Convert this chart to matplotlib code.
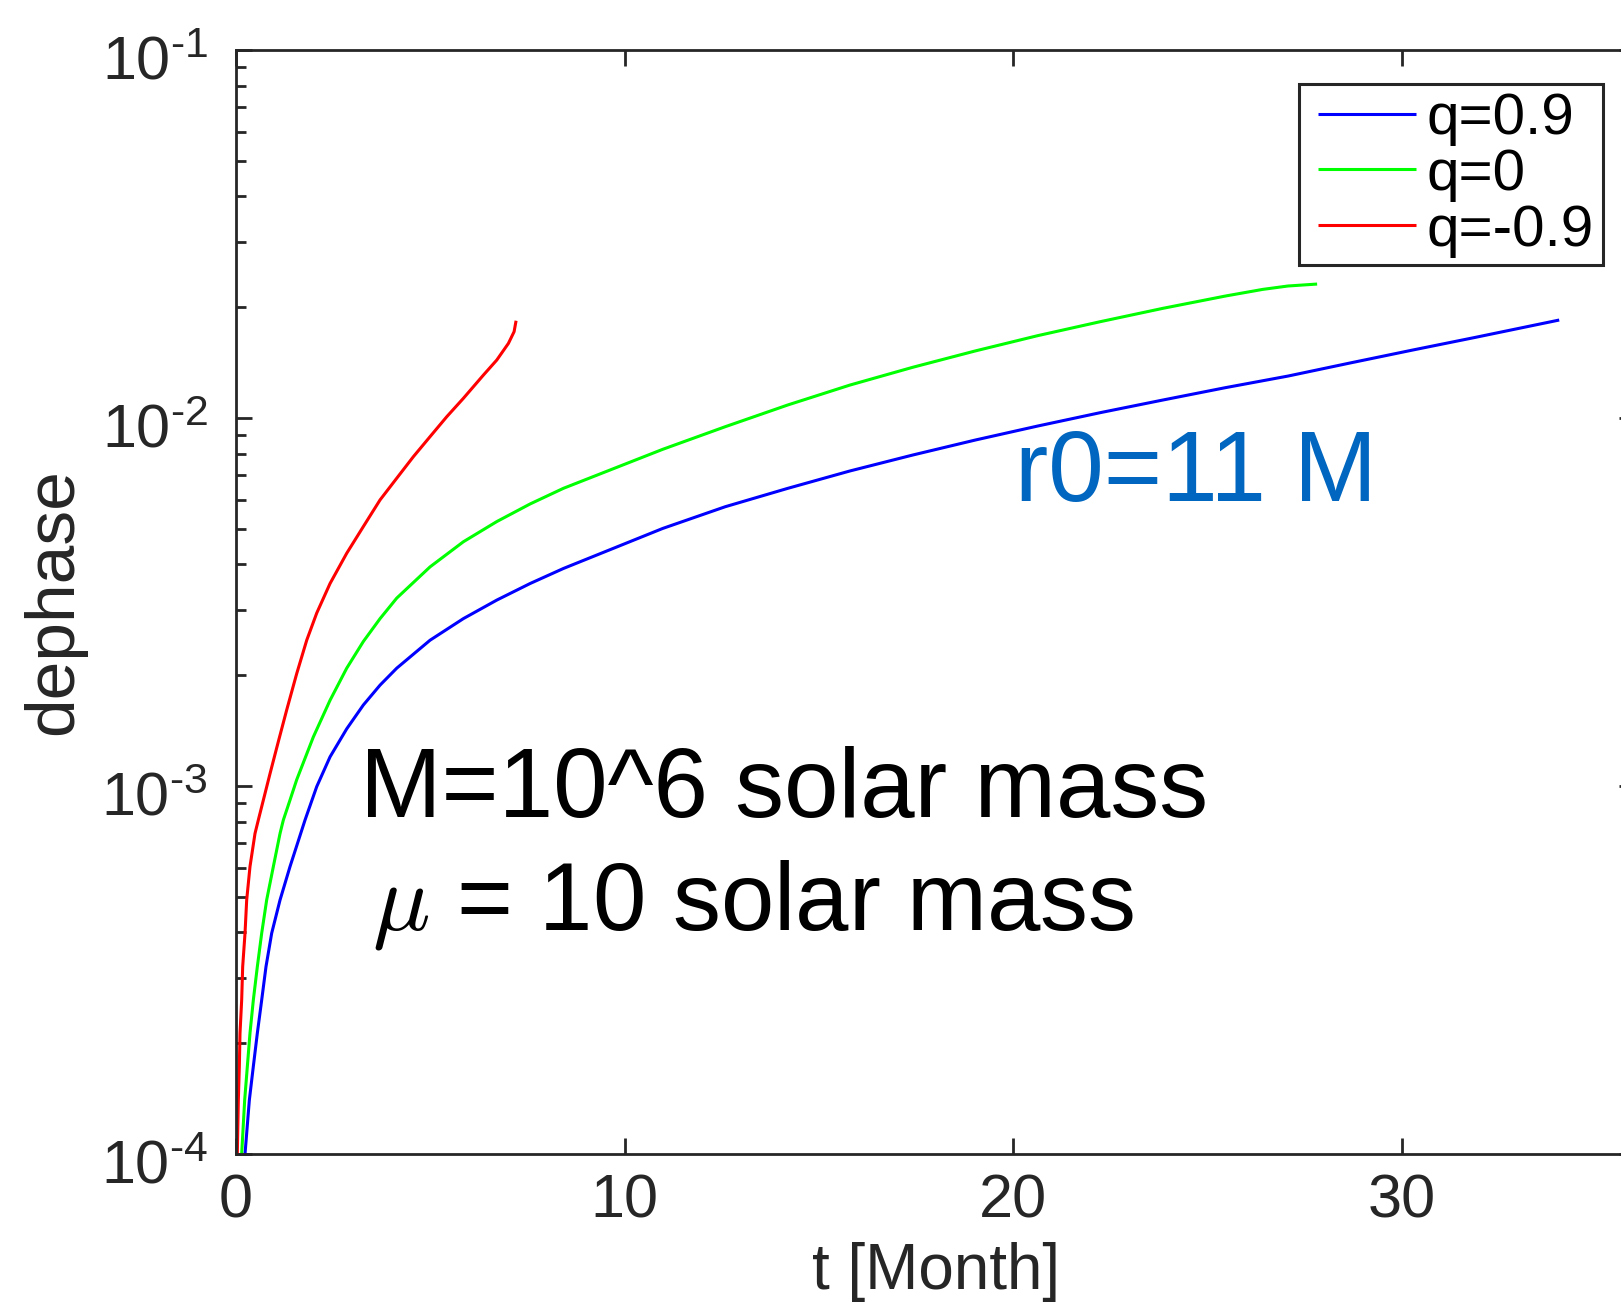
import matplotlib
matplotlib.use("Agg")
import numpy as np
import matplotlib.pyplot as plt
from matplotlib.patches import Rectangle
from matplotlib.transforms import ScaledTranslation

plt.rcParams['font.family'] = ['Liberation Sans', 'DejaVu Sans']
plt.rcParams['mathtext.fontset'] = 'custom'
plt.rcParams['mathtext.rm'] = 'Liberation Sans'
plt.rcParams['mathtext.it'] = 'Liberation Sans:italic'

# dephase vs time (months), one curve per spin q
t_q09 = [0.232, 0.343, 0.446, 0.549, 0.661, 0.772, 0.918, 1.133, 1.390, 1.776,
         2.077, 2.420, 2.849, 3.277, 3.707, 4.136, 4.994, 5.851, 6.710, 7.568,
         8.425, 10.98, 12.59, 14.20, 15.80, 17.41, 19.02, 20.63, 22.24, 23.85,
         25.46, 27.07, 28.67, 30.28, 31.89, 34.05]
d_q09 = [1.0e-4, 1.40e-4, 1.73e-4, 2.13e-4, 2.62e-4, 3.23e-4, 3.98e-4, 4.90e-4,
         6.04e-4, 8.08e-4, 9.96e-4, 1.20e-3, 1.43e-3, 1.66e-3, 1.88e-3, 2.09e-3,
         2.49e-3, 2.85e-3, 3.20e-3, 3.55e-3, 3.90e-3, 5.01e-3, 5.74e-3, 6.44e-3,
         7.18e-3, 7.93e-3, 8.71e-3, 9.51e-3, 1.034e-2, 1.119e-2, 1.209e-2,
         1.300e-2, 1.411e-2, 1.530e-2, 1.656e-2, 1.846e-2]

t_q0 = [0.146, 0.223, 0.292, 0.360, 0.446, 0.549, 0.661, 0.789, 0.961, 1.133,
        1.218, 1.390, 1.562, 1.991, 2.420, 2.849, 3.277, 3.707, 4.136, 4.994,
        5.851, 6.710, 7.568, 8.425, 10.98, 12.59, 14.20, 15.80, 17.41, 19.02,
        20.63, 22.24, 23.85, 25.46, 26.42, 27.07, 27.82]
d_q0 = [1.0e-4, 1.40e-4, 1.73e-4, 2.13e-4, 2.62e-4, 3.23e-4, 3.98e-4, 4.90e-4,
        6.04e-4, 7.43e-4, 8.08e-4, 9.16e-4, 1.04e-3, 1.36e-3, 1.71e-3, 2.09e-3,
        2.47e-3, 2.85e-3, 3.24e-3, 3.94e-3, 4.61e-3, 5.23e-3, 5.84e-3, 6.44e-3,
        8.22e-3, 9.47e-3, 1.085e-2, 1.229e-2, 1.373e-2, 1.521e-2, 1.674e-2,
        1.827e-2, 1.986e-2, 2.145e-2, 2.236e-2, 2.284e-2, 2.312e-2]

t_qm09 = [0.034, 0.060, 0.086, 0.103, 0.146, 0.172, 0.232, 0.275, 0.360, 0.489,
          0.574, 0.875, 1.089, 1.305, 1.562, 1.820, 2.077, 2.420, 2.849, 3.277,
          3.707, 4.136, 4.564, 4.994, 5.423, 5.851, 6.366, 6.710, 7.010, 7.156,
          7.207]
d_qm09 = [1.0e-4, 1.40e-4, 1.73e-4, 2.13e-4, 2.62e-4, 3.23e-4, 3.98e-4, 4.90e-4,
          6.04e-4, 7.43e-4, 8.08e-4, 1.08e-3, 1.32e-3, 1.61e-3, 2.02e-3, 2.49e-3,
          2.95e-3, 3.55e-3, 4.29e-3, 5.07e-3, 5.99e-3, 6.86e-3, 7.85e-3, 8.90e-3,
          1.008e-2, 1.131e-2, 1.308e-2, 1.437e-2, 1.595e-2, 1.716e-2, 1.838e-2]

labels = ['q=0.9', 'q=0', 'q=-0.9']
xticks = [0, 10, 20, 30]
yticks = [1e-4, 1e-3, 1e-2, 1e-1]
# plain hyphen in the exponent instead of a math minus
ytick_labels = ['$10^{\u20104}$', '$10^{\u20103}$', '$10^{\u20102}$', '$10^{\u20101}$']

W, H = 1621, 1303
fig = plt.figure(figsize=(W / 100, H / 100), dpi=100)
ax = fig.add_axes([236 / W, 1 - 1154 / H, (1635 - 236) / W, (1154 - 50) / H])

kw = dict(lw=2.2, solid_joinstyle='round', solid_capstyle='butt')
ax.plot(t_q09, d_q09, color='#0000FF', label=labels[0], **kw)
ax.plot(t_q0, d_q0, color='#00FF00', label=labels[1], **kw)
ax.plot(t_qm09, d_qm09, color='#FF0000', label=labels[2], **kw)

ax.set_yscale('log')
ax.set_xlim(0, 36)
ax.set_ylim(1e-4, 1e-1)
ax.set_xticks(xticks)
ax.set_xticklabels([str(v) for v in xticks])
ax.set_yticks(yticks)
ax.set_yticklabels(ytick_labels)

axcol = '#262626'
for s in ax.spines.values():
    s.set_linewidth(2.0)
    s.set_color(axcol)
ax.tick_params(which='both', direction='in', top=True, right=True,
               colors=axcol, width=2.0, labelsize=44)
ax.tick_params(which='major', length=11.5)
ax.tick_params(which='minor', length=7)
ax.tick_params(axis='x', which='major', pad=14)
ax.tick_params(axis='y', which='major', pad=20)
ax.xaxis.set_minor_locator(matplotlib.ticker.NullLocator())

# nudge the y tick labels down a little
shift = ScaledTranslation(0, -7 / 100, fig.dpi_scale_trans)
for lbl in ax.get_yticklabels():
    lbl.set_transform(lbl.get_transform() + shift)

ax.set_xlabel('t [Month]', fontsize=46, color=axcol, labelpad=8)
ax.set_ylabel('dephase', fontsize=50, color=axcol, labelpad=11)

# legend entries without their own frame; box drawn separately
leg = ax.legend(loc='upper left', bbox_to_anchor=(1318 / W, 1 - 92 / H),
                bbox_transform=fig.transFigure, fontsize=42, frameon=False,
                borderaxespad=0, borderpad=0,
                labelspacing=0.03, handlelength=1.68, handletextpad=0.18)
fig.patches.append(Rectangle((1299 / W, 1 - 265 / H), 304 / W, 181 / H,
                             transform=fig.transFigure, fill=False,
                             edgecolor=axcol, linewidth=2.2, zorder=5))

fig.text(360 / W, 1 - 817 / H, 'M=10^6 solar mass', fontsize=70.5, color='black')
fig.text(372 / W, 1 - 930 / H, r'$\mu$ = 10 solar mass', fontsize=69,
         color='black', math_fontfamily='cm')
fig.text(1015 / W, 1 - 501 / H, 'r0=11 M', fontsize=72, color='#0066BF')

fig.savefig('out.png', dpi=100)
